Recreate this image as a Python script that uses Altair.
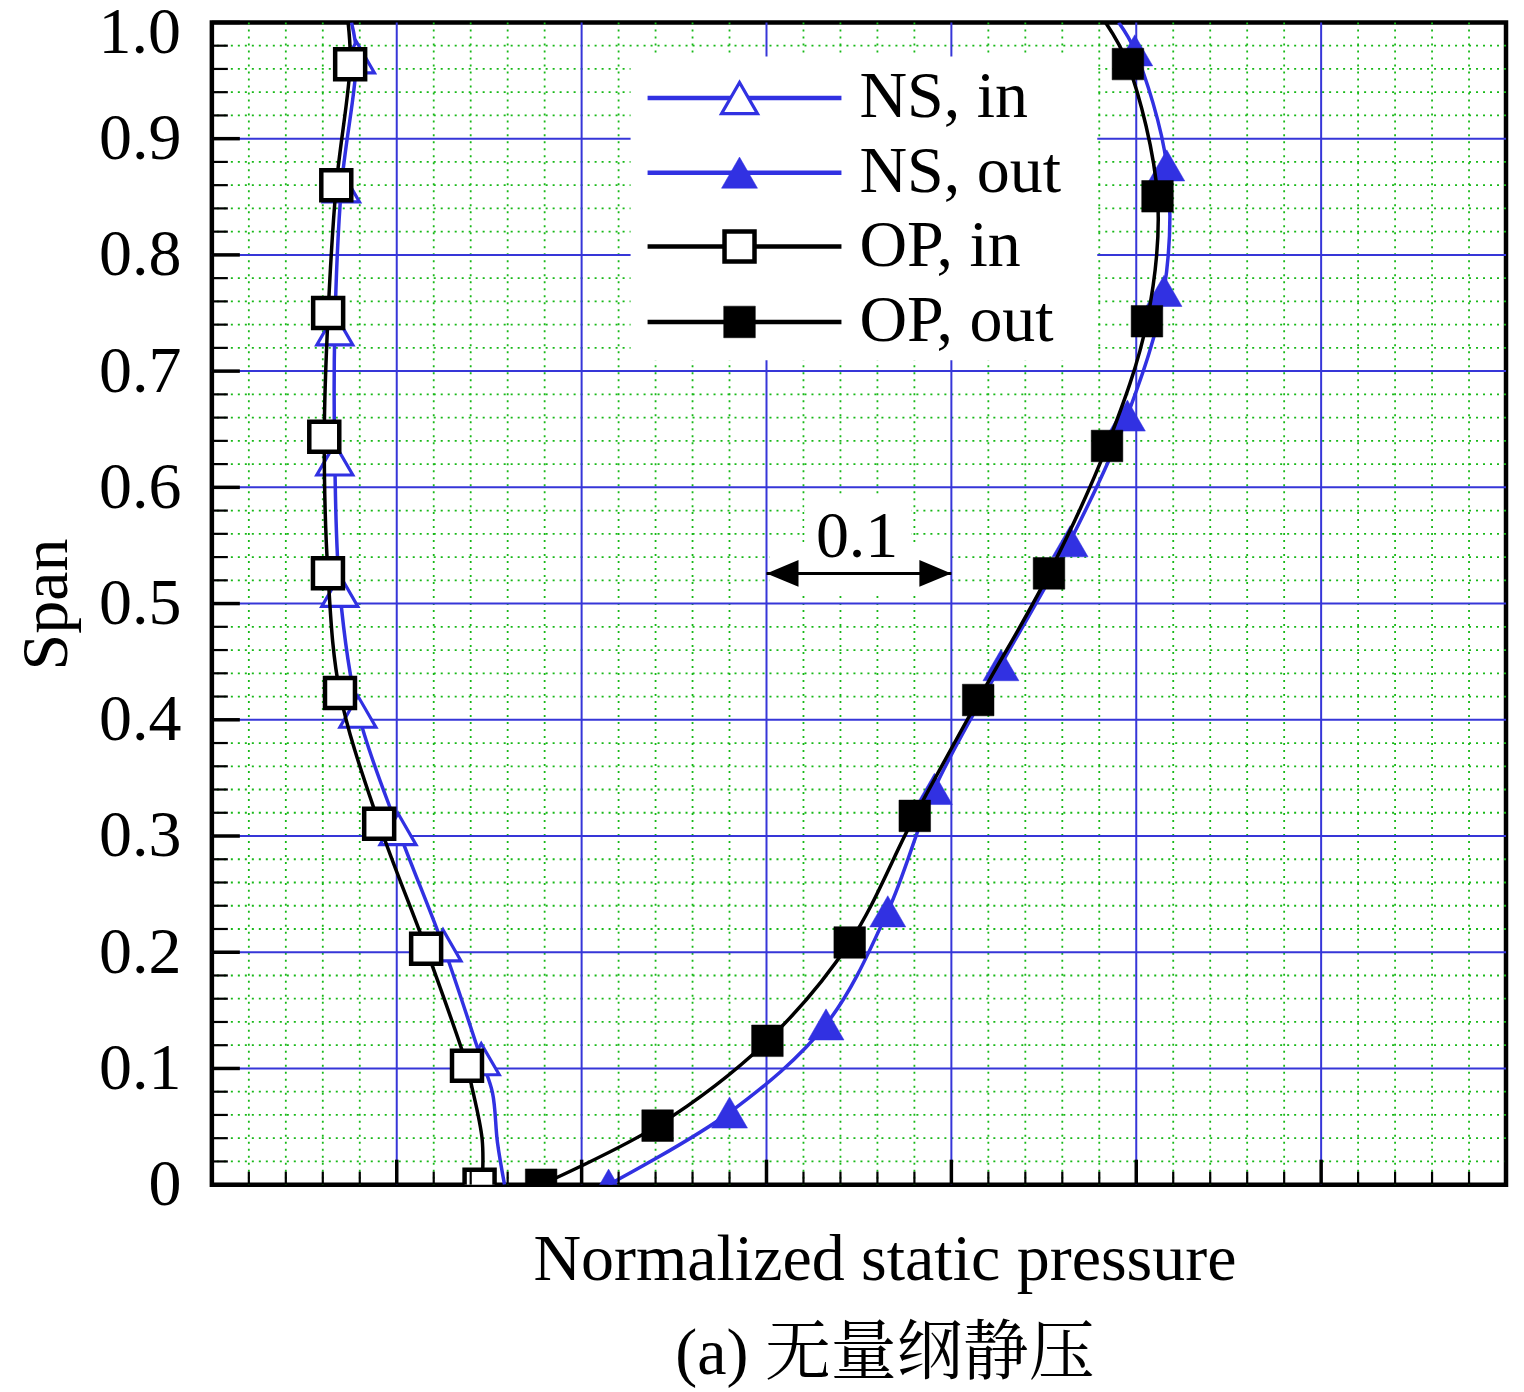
import altair as alt
import pandas as pd

# ---------------- data ----------------
# NS, in  (open triangles)
NS_IN_MX = [0.0782, 0.0701, 0.0665, 0.0665, 0.0692, 0.0790, 0.1007, 0.1250, 0.1457]
NS_IN_MY = [0.970, 0.859, 0.736, 0.624, 0.511, 0.407, 0.306, 0.206, 0.108]
NS_IN_LX = [0.0755, 0.0782, 0.0701, 0.0665, 0.0665, 0.0692, 0.0790, 0.1007, 0.1250, 0.1457, 0.1518, 0.1545, 0.1583]
NS_IN_LY = [1.0, 0.970, 0.859, 0.736, 0.624, 0.511, 0.407, 0.306, 0.206, 0.108, 0.079, 0.036, 0.0]

# NS, out (filled triangles)
NS_OUT_MX = [0.2146, 0.2800, 0.3322, 0.3656, 0.3908, 0.4268, 0.4642, 0.4952, 0.5150, 0.5165, 0.4992]
NS_OUT_MY = [0.0, 0.0621, 0.1379, 0.2352, 0.3405, 0.4470, 0.5536, 0.6618, 0.7690, 0.8770, 0.9760]
NS_OUT_LX = [0.2146, 0.2800, 0.3322, 0.3656, 0.3908, 0.4268, 0.4642, 0.4952, 0.5150, 0.5165, 0.4992, 0.4905]
NS_OUT_LY = [0.0, 0.0621, 0.1379, 0.2352, 0.3405, 0.4470, 0.5536, 0.6618, 0.7690, 0.8770, 0.9760, 1.0]

# OP, in  (open squares)
OP_IN_MX = [0.0748, 0.0673, 0.0629, 0.0608, 0.0628, 0.0693, 0.0905, 0.1159, 0.1380, 0.1448]
OP_IN_MY = [0.964, 0.860, 0.750, 0.6435, 0.526, 0.423, 0.3105, 0.203, 0.1023, 0.0]
OP_IN_LX = [0.0737, 0.0748, 0.0673, 0.0629, 0.0608, 0.0628, 0.0693, 0.0905, 0.1159, 0.1380, 0.1402, 0.1462, 0.1462]
OP_IN_LY = [1.0, 0.964, 0.860, 0.750, 0.6435, 0.526, 0.423, 0.3105, 0.203, 0.1023, 0.0872, 0.039, 0.0]

# OP, out (filled squares)
OP_OUT_MX = [0.1781, 0.2411, 0.3005, 0.3450, 0.3802, 0.4145, 0.4528, 0.4842, 0.5058, 0.5115, 0.4955]
OP_OUT_MY = [0.0, 0.0508, 0.1238, 0.2084, 0.3173, 0.4170, 0.5260, 0.6356, 0.7429, 0.8504, 0.9642]
OP_OUT_LX = [0.1781, 0.2411, 0.3005, 0.3450, 0.3802, 0.4145, 0.4528, 0.4842, 0.5058, 0.5115, 0.4955, 0.4834]
OP_OUT_LY = [0.0, 0.0508, 0.1238, 0.2084, 0.3173, 0.4170, 0.5260, 0.6356, 0.7429, 0.8504, 0.9642, 1.0]

LEGEND_LABELS = ["NS, in", "NS, out", "OP, in", "OP, out"]
Y_MAJOR = [0.0, 0.1, 0.2, 0.3, 0.4, 0.5, 0.6, 0.7, 0.8, 0.9, 1.0]
X_MAJOR = [0.0, 0.1, 0.2, 0.3, 0.4, 0.5, 0.6, 0.7]
SCALE_BAR = [0.3, 0.4]
SCALE_LABEL = "0.1"

# ---------------- layout / style ----------------
W, H = 1295, 1163
LEFT, TOP = 212, 22          # page pixel of plot origin
XMAX = 0.7
FONT = "Liberation Serif, Noto Serif CJK SC, Noto Sans CJK SC"
FS = 66
BLUE = "#3131e2"
GRID_BLUE = "#3636d8"
GREEN = "#17b817"

def px_x(px):
    return (px - LEFT) / W * XMAX

def px_y(py):
    return (TOP + H - py) / H

X_MINOR = [round(i * 0.02, 2) for i in range(1, 35) if i % 5 != 0]
Y_MINOR = [round(i * 0.02, 2) for i in range(1, 50) if i % 5 != 0]
X_GRID = [v for v in X_MAJOR if 0 < v < XMAX]
Y_GRID = [v for v in Y_MAJOR if 0 < v < 1]

xs = alt.Scale(domain=[0, XMAX], nice=False, zero=False)
ys = alt.Scale(domain=[0, 1], nice=False, zero=False)

x_axis = alt.Axis(
    labels=False, ticks=False, domain=False, grid=False,
    title=["Normalized static pressure", "(a) 无量纲静压"],
    titleFont=FONT, titleFontSize=FS, titleFontWeight="normal", titleColor="black",
    titleX=673, titleY=95, titleAlign="center", titleBaseline="alphabetic",
    titleLineHeight=94,
)
y_axis = alt.Axis(
    values=Y_MAJOR[:-1],
    labelExpr="datum.value == 0 ? '0' : format(datum.value, '.1f')",
    labelFont=FONT, labelFontSize=FS, labelColor="black", labelPadding=31,
    labelFlush=False, labelOverlap=False, labelBaseline="middle",
    ticks=False, tickSize=0, domain=False, grid=False,
    title="Span", titleFont=FONT, titleFontSize=FS, titleFontWeight="normal",
    titleColor="black", titleAngle=270, titleX=-145, titleY=582,
    titleAlign="center", titleBaseline="alphabetic",
)


def XE(f="x"):
    return alt.X(f"{f}:Q", scale=xs, axis=x_axis)


def YE(f="y"):
    return alt.Y(f"{f}:Q", scale=ys, axis=y_axis)


layers = []

# ---- grid ----
layers.append(alt.Chart(pd.DataFrame({"x": X_MINOR})).mark_rule(
    color=GREEN, strokeWidth=1.8, strokeDash=[2, 5]).encode(x=XE()))
layers.append(alt.Chart(pd.DataFrame({"y": Y_MINOR})).mark_rule(
    color=GREEN, strokeWidth=1.8, strokeDash=[2, 5]).encode(y=YE()))
layers.append(alt.Chart(pd.DataFrame({"x": X_GRID})).mark_rule(
    color=GRID_BLUE, strokeWidth=2).encode(x=XE()))
layers.append(alt.Chart(pd.DataFrame({"y": Y_GRID})).mark_rule(
    color=GRID_BLUE, strokeWidth=2).encode(y=YE()))

# ---- white boxes (legend + scale annotation) ----
boxes = pd.DataFrame({
    "x": [px_x(631), px_x(805), px_x(770)],
    "x2": [px_x(1098), px_x(912), px_x(950)],
    "y": [px_y(56), px_y(497), px_y(545)],
    "y2": [px_y(360), px_y(565), px_y(593)],
})
layers.append(alt.Chart(boxes).mark_rect(color="white").encode(
    x=XE(), x2="x2:Q", y=YE(), y2="y2:Q"))


# ---- curves ----
def curve(lx, ly, mx, my, color, shape, size, filled_marker, sw):
    ldf = pd.DataFrame({"x": lx, "y": ly})
    mdf = pd.DataFrame({"x": mx, "y": my})
    line = alt.Chart(ldf).mark_line(
        color=color, strokeWidth=3.5, interpolate="catmull-rom", clip=True
    ).encode(x=XE(), y=YE(), order=alt.Order("y:Q"))
    pt = alt.Chart(mdf).mark_point(
        shape=shape, size=size, filled=True,
        fill=color if filled_marker else "white",
        stroke=color, strokeWidth=sw, opacity=1, fillOpacity=1, strokeOpacity=1,
        clip=True,
    ).encode(x=XE(), y=YE())
    return [line, pt]


layers += curve(NS_IN_LX, NS_IN_LY, NS_IN_MX, NS_IN_MY, BLUE, "triangle-up", 1296, False, 3.2)
layers += curve(NS_OUT_LX, NS_OUT_LY, NS_OUT_MX, NS_OUT_MY, BLUE, "triangle-up", 1296, True, 0.5)
layers += curve(OP_IN_LX, OP_IN_LY, OP_IN_MX, OP_IN_MY, "black", "square", 900, False, 4.5)
layers += curve(OP_OUT_LX, OP_OUT_LY, OP_OUT_MX, OP_OUT_MY, "black", "square", 1000, True, 0.5)

# ---- inward ticks ----
layers.append(alt.Chart(pd.DataFrame({"y": Y_MAJOR})).mark_rule(
    color="black", strokeWidth=3.5).encode(y=YE(), x=alt.value(0), x2=alt.value(28)))
layers.append(alt.Chart(pd.DataFrame({"y": Y_MINOR})).mark_rule(
    color="black", strokeWidth=2.2).encode(y=YE(), x=alt.value(0), x2=alt.value(16)))
layers.append(alt.Chart(pd.DataFrame({"x": X_MAJOR})).mark_rule(
    color="black", strokeWidth=3.5).encode(x=XE(), y=alt.value(H), y2=alt.value(H - 25)))
layers.append(alt.Chart(pd.DataFrame({"x": X_MINOR})).mark_rule(
    color="black", strokeWidth=2.2).encode(x=XE(), y=alt.value(H), y2=alt.value(H - 13)))

# top tick label "1.0" (nudged down a little so it stays inside the page)
top_lbl = pd.DataFrame({"y": [Y_MAJOR[-1]], "t": ["1.0"]})
layers.append(alt.Chart(top_lbl).mark_text(
    align="right", baseline="middle", font=FONT, fontSize=FS, color="black", dy=11
).encode(y=YE(), x=alt.value(-31), text="t:N"))

# ---- legend ----
ROWS = [97.7, 172.3, 246.3, 321.7]
STYLE = [(BLUE, "triangle-up", 1296, False, 3.2),
         (BLUE, "triangle-up", 1296, True, 0.5),
         ("black", "square", 900, False, 4.5),
         ("black", "square", 1000, True, 0.5)]
for lab, row, (col, shp, sz, fil, sw) in zip(LEGEND_LABELS, ROWS, STYLE):
    seg = pd.DataFrame({"x": [px_x(648)], "x2": [px_x(842)], "y": [px_y(row)],
                        "xm": [px_x(740)]})
    layers.append(alt.Chart(seg).mark_rule(color=col, strokeWidth=4.5).encode(
        x=XE(), x2="x2:Q", y=YE()))
    layers.append(alt.Chart(seg).mark_point(
        shape=shp, size=sz, filled=True, fill=col if fil else "white", stroke=col,
        strokeWidth=sw, opacity=1, fillOpacity=1, strokeOpacity=1).encode(
        x=XE("xm"), y=YE()))
    txt = pd.DataFrame({"x": [px_x(860)], "y": [px_y(row + 19)], "t": [lab]})
    layers.append(alt.Chart(txt).mark_text(
        align="left", baseline="alphabetic", font=FONT, fontSize=FS, color="black"
    ).encode(x=XE(), y=YE(), text="t:N"))

# ---- scale annotation "0.1" with double arrow ----
AY = px_y(573.3)
arrow = pd.DataFrame({"x": [SCALE_BAR[0]], "x2": [SCALE_BAR[1]], "y": [AY]})
layers.append(alt.Chart(arrow).mark_rule(color="black", strokeWidth=3).encode(
    x=XE(), x2="x2:Q", y=YE()))
heads = pd.DataFrame({"x": SCALE_BAR, "y": [AY, AY]})
layers.append(alt.Chart(heads.iloc[[0]]).mark_point(
    shape="M0,0L2,-0.84L2,0.84Z", size=1024, filled=True, color="black",
    opacity=1).encode(x=XE(), y=YE()))
layers.append(alt.Chart(heads.iloc[[1]]).mark_point(
    shape="M0,0L-2,-0.84L-2,0.84Z", size=1024, filled=True, color="black",
    opacity=1).encode(x=XE(), y=YE()))
lbl = pd.DataFrame({"x": [sum(SCALE_BAR) / 2 - 0.0010], "y": [px_y(557.3)], "t": [SCALE_LABEL]})
layers.append(alt.Chart(lbl).mark_text(
    align="center", baseline="alphabetic", font=FONT, fontSize=FS, color="black"
).encode(x=XE(), y=YE(), text="t:N"))

chart = alt.layer(*layers).properties(
    width=W, height=H,
    padding={"left": LEFT - 8, "top": TOP - 8, "right": 10, "bottom": 206},
    autosize=alt.AutoSizeParams(type="none"),
).configure_view(stroke="black", strokeWidth=4.5)

chart.save("out.html", embed_options={"renderer": "svg", "actions": False})
